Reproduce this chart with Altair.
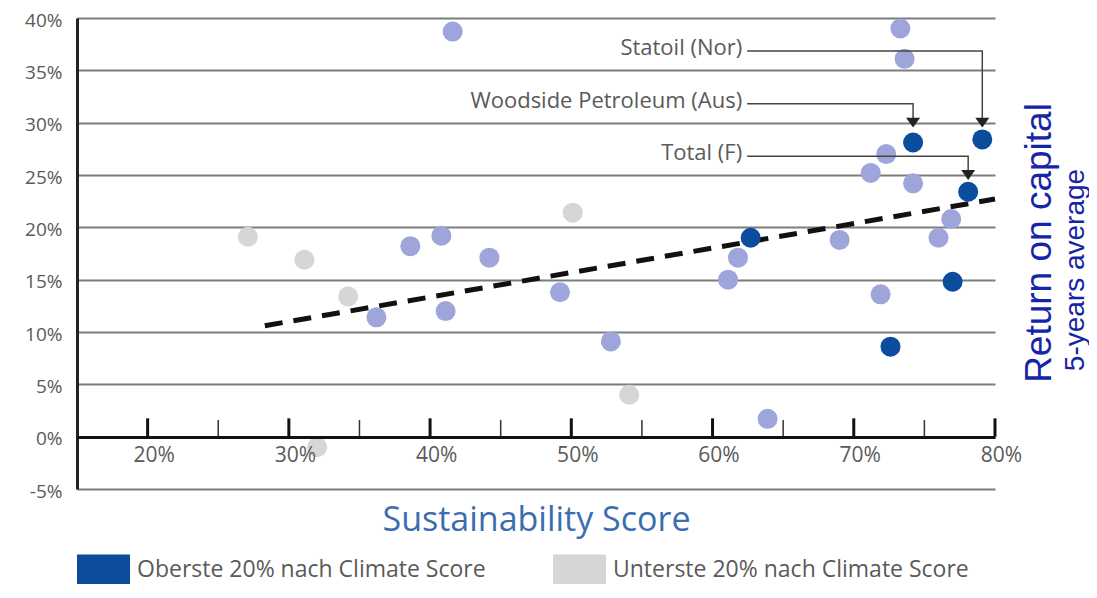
import altair as alt
import pandas as pd

# ---------------- data ----------------
top_label = "Oberste 20% nach Climate Score"
mid_label = "Übrige Unternehmen"
bot_label = "Unterste 20% nach Climate Score"

# Sustainability score (%) / return on capital (%)
top_x = [74.2, 79.1, 78.1, 62.7, 77.0, 72.6]
top_y = [28.1, 28.4, 23.4, 19.0, 14.8, 8.6]

mid_x = [41.6, 73.3, 73.6, 72.3, 71.2, 74.2, 76.9, 76.0, 69.0, 61.8,
         61.1, 71.9, 38.6, 40.8, 44.2, 36.2, 41.1, 49.2, 52.8, 63.9]
mid_y = [38.7, 39.0, 36.1, 27.0, 25.2, 24.2, 20.8, 19.0, 18.8, 17.1,
         15.0, 13.6, 18.2, 19.2, 17.1, 11.4, 12.0, 13.8, 9.1, 1.7]

bot_x = [27.1, 31.1, 34.2, 50.1, 54.1, 32.0]
bot_y = [19.1, 16.9, 13.4, 21.4, 4.0, -1.0]

trend_x = [28.3, 80.0]
trend_y = [10.6, 22.7]

x_major = [20, 30, 40, 50, 60, 70, 80]
x_minor = [25, 35, 45, 55, 65, 75]
y_ticks = [-5, 0, 5, 10, 15, 20, 25, 30, 35, 40]

ann_names = ["Statoil (Nor)", "Woodside Petroleum (Aus)", "Total (F)"]
ann_text_x = 62.1
ann_line_start_x = 62.45
ann_line_y = [36.85, 31.8, 26.8]
ann_target_x = [79.1, 74.2, 78.1]
ann_arrow_y = [30.0, 30.0, 25.0]

x_title = "Sustainability Score"
right_title_1 = "Return on capital"
right_title_2 = "5-years average"

# ---------------- styling ----------------
FONT = "Open Sans"
GRAY = "#5a5a5a"
C_TOP = "#0b4c9c"
C_MID = "#9ea5da"
C_BOT = "#d6d6d6"

pts = pd.DataFrame({
    "x": mid_x + bot_x + top_x,
    "y": mid_y + bot_y + top_y,
    "group": [mid_label] * len(mid_x) + [bot_label] * len(bot_x) + [top_label] * len(top_x),
})
trend = pd.DataFrame({"x": trend_x, "y": trend_y})
major = pd.DataFrame({"x": x_major, "y": [0] * len(x_major), "y2": [1.75] * len(x_major)})
minor = pd.DataFrame({"x": x_minor, "y": [0] * len(x_minor), "y2": [1.6] * len(x_minor)})

ann_text = pd.DataFrame({
    "x": [ann_text_x] * len(ann_names),
    "y": [v + 0.3 for v in ann_line_y],
    "label": ann_names,
})
rows = []
for n, ly, tx, ay in zip(ann_names, ann_line_y, ann_target_x, ann_arrow_y):
    rows.append({"name": n, "step": 0, "x": ann_line_start_x, "y": ly})
    rows.append({"name": n, "step": 1, "x": tx, "y": ly})
    rows.append({"name": n, "step": 2, "x": tx, "y": ay + 0.3})
ann_lines = pd.DataFrame(rows)
arrows = pd.DataFrame({"x": ann_target_x, "y": ann_arrow_y})

xscale = alt.Scale(domain=[15, 80], nice=False, zero=False)
yscale = alt.Scale(domain=[-5, 40], nice=False, zero=False)

xaxis = alt.Axis(
    values=x_major, labelExpr="datum.value + '%'", offset=-52, grid=False,
    ticks=False, tickSize=0, domainColor="#111111", domainWidth=3,
    labelFont=FONT, labelFontSize=21, labelColor=GRAY, labelPadding=7,
    labelOffset=6, labelFlush=False, labelOverlap=False,
    title=x_title, titleFont=FONT, titleFontSize=34, titleFontWeight="normal",
    titleColor="#3b6db0", titlePadding=38, zindex=1,
)
yaxis = alt.Axis(
    values=y_ticks, labelExpr="datum.value + '%'", grid=True,
    gridColor="#7d7d7d", gridWidth=2, ticks=False, tickSize=0,
    domainColor="#222222", domainWidth=3, labelFont=FONT, labelFontSize=19,
    labelColor=GRAY, labelPadding=15, labelOffset=2, labelFlush=False,
    labelOverlap=False, title=None, zindex=0,
)

X = alt.X("x:Q", scale=xscale, axis=xaxis)
Y = alt.Y("y:Q", scale=yscale, axis=yaxis)

grid_ticks_major = alt.Chart(major).mark_rule(color="#111111", strokeWidth=3).encode(
    x=X, y=Y, y2=alt.Y2("y2:Q"))
grid_ticks_minor = alt.Chart(minor).mark_rule(color="#333333", strokeWidth=1.5).encode(
    x=X, y=Y, y2=alt.Y2("y2:Q"))

trend_line = alt.Chart(trend).mark_line(
    color="#111111", strokeWidth=5, strokeDash=[18, 11], strokeCap="butt"
).encode(x=X, y=Y)

points = alt.Chart(pts).mark_circle(size=400, opacity=1).encode(
    x=X, y=Y,
    color=alt.Color(
        "group:N",
        scale=alt.Scale(domain=[top_label, mid_label, bot_label], range=[C_TOP, C_MID, C_BOT]),
        legend=alt.Legend(
            title=None, orient="none", legendX=0, legendY=525,
            direction="horizontal", values=[top_label, bot_label],
            symbolType="M-1,-0.57H1V0.57H-1Z", symbolSize=2809,
            symbolStrokeWidth=0, symbolOpacity=1,
            labelFont=FONT, labelFontSize=23, labelColor=GRAY,
            labelOffset=7, columnPadding=67, labelLimit=600,
        ),
    ),
)

lines = alt.Chart(ann_lines).mark_line(color="#444444", strokeWidth=1.5).encode(
    x=X, y=Y, detail="name:N", order="step:Q")
heads = alt.Chart(arrows).mark_point(
    shape="M-1,-0.7L1,-0.7L0,0.7Z", size=196, filled=True, color="#222222", opacity=1
).encode(x=X, y=Y)
texts = alt.Chart(ann_text).mark_text(
    align="right", baseline="middle", font=FONT, fontSize=22, color=GRAY
).encode(x=X, y=Y, text="label:N")

rt1 = alt.Chart(pd.DataFrame({"t": [right_title_1]})).mark_text(
    angle=270, align="center", baseline="middle", font="Liberation Sans",
    fontSize=37, color="#1426a6"
).encode(text="t:N", x=alt.value(963), y=alt.value(225))
rt2 = alt.Chart(pd.DataFrame({"t": [right_title_2]})).mark_text(
    angle=270, align="center", baseline="middle", font="Liberation Sans",
    fontSize=28, color="#1426a6"
).encode(text="t:N", x=alt.value(999), y=alt.value(252))

chart = alt.layer(
    trend_line, points, grid_ticks_major, grid_ticks_minor, lines, heads, texts, rt1, rt2
).properties(
    width=918, height=471,
    padding={"left": 69, "top": 10, "right": 94, "bottom": 95},
    autosize=alt.AutoSizeParams(type="none"),
    background="white",
).configure_view(strokeWidth=0)

chart.save("out.html", embed_options={"renderer": "svg", "actions": False})
